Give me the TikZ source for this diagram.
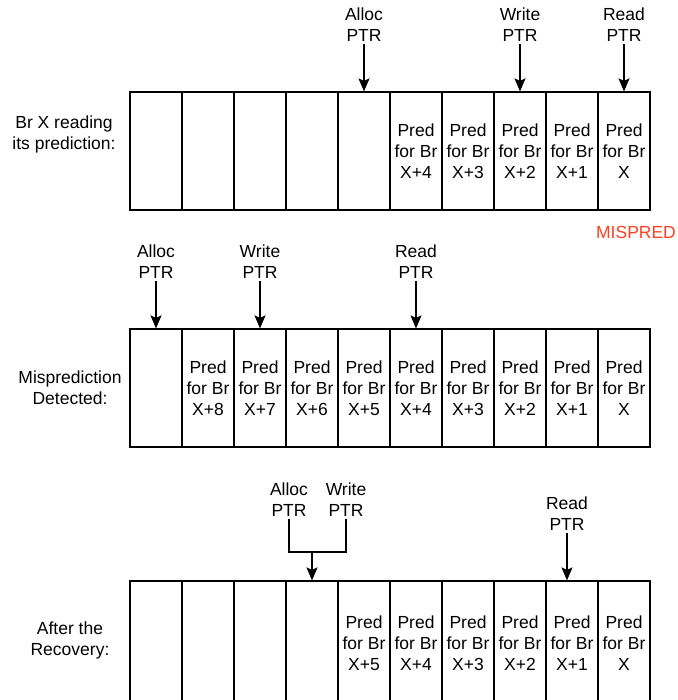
\documentclass[tikz,border=0pt]{standalone}
\usepackage{fontspec}
\setmainfont{Liberation Sans}
\usetikzlibrary{arrows.meta}
\newcommand{\lblfont}{\fontsize{17.5}{21}\selectfont}
\definecolor{misred}{RGB}{255,64,32}
\tikzset{
  cell/.style={draw,line width=1.2pt,minimum width=52pt,minimum height=118pt,inner sep=0pt,align=center,font=\lblfont},
  ptr/.style={align=center,font=\lblfont,inner sep=2pt},
  arr/.style={-{Stealth[length=13pt,width=11pt,inset=2.5pt]},line width=1.2pt},
}
\begin{document}
\begin{tikzpicture}[x=1pt,y=-1pt]
\useasboundingbox (0,0) rectangle (677,700);
\clip (0,0) rectangle (677,700);
% row 1: branch X reads its prediction
\node[ptr] (rowa) at (64,134) {Br X reading\\its prediction:};
\node[cell] (a1) at (156,151) {};
\node[cell] (a2) at (208,151) {};
\node[cell] (a3) at (260,151) {};
\node[cell] (a4) at (312,151) {};
\node[cell] (a5) at (364,151) {};
\node[cell] (a6) at (416,151) {Pred\\for Br\\X+4};
\node[cell] (a7) at (468,151) {Pred\\for Br\\X+3};
\node[cell] (a8) at (520,151) {Pred\\for Br\\X+2};
\node[cell] (a9) at (572,151) {Pred\\for Br\\X+1};
\node[cell] (a10) at (624,151) {Pred\\for Br\\X};
\node[ptr] (alA) at (364,25) {Alloc\\PTR};
\node[ptr] (wrA) at (520,25) {Write\\PTR};
\node[ptr] (rdA) at (624,25) {Read\\PTR};
\draw[arr] (alA) -- (a5);
\draw[arr] (wrA) -- (a8);
\draw[arr] (rdA) -- (a10);
\node[ptr,text=misred] (mis) at (636,232) {MISPRED};
% row 2: misprediction detected
\node[ptr] (rowb) at (70,388) {Misprediction\\Detected:};
\node[cell] (b1) at (156,388) {};
\node[cell] (b2) at (208,388) {Pred\\for Br\\X+8};
\node[cell] (b3) at (260,388) {Pred\\for Br\\X+7};
\node[cell] (b4) at (312,388) {Pred\\for Br\\X+6};
\node[cell] (b5) at (364,388) {Pred\\for Br\\X+5};
\node[cell] (b6) at (416,388) {Pred\\for Br\\X+4};
\node[cell] (b7) at (468,388) {Pred\\for Br\\X+3};
\node[cell] (b8) at (520,388) {Pred\\for Br\\X+2};
\node[cell] (b9) at (572,388) {Pred\\for Br\\X+1};
\node[cell] (b10) at (624,388) {Pred\\for Br\\X};
\node[ptr] (alB) at (156,262) {Alloc\\PTR};
\node[ptr] (wrB) at (260,262) {Write\\PTR};
\node[ptr] (rdB) at (416,262) {Read\\PTR};
\draw[arr] (alB) -- (b1);
\draw[arr] (wrB) -- (b3);
\draw[arr] (rdB) -- (b6);
% row 3: after the recovery
\node[ptr] (rowc) at (70,640) {After the\\Recovery:};
\node[cell,minimum height=124pt] (c1) at (156,643) {};
\node[cell,minimum height=124pt] (c2) at (208,643) {};
\node[cell,minimum height=124pt] (c3) at (260,643) {};
\node[cell,minimum height=124pt] (c4) at (312,643) {};
\node[cell,minimum height=124pt] (c5) at (364,643) {Pred\\for Br\\X+5};
\node[cell,minimum height=124pt] (c6) at (416,643) {Pred\\for Br\\X+4};
\node[cell,minimum height=124pt] (c7) at (468,643) {Pred\\for Br\\X+3};
\node[cell,minimum height=124pt] (c8) at (520,643) {Pred\\for Br\\X+2};
\node[cell,minimum height=124pt] (c9) at (572,643) {Pred\\for Br\\X+1};
\node[cell,minimum height=124pt] (c10) at (624,643) {Pred\\for Br\\X};
\node[ptr] (alC) at (289,500) {Alloc\\PTR};
\node[ptr] (wrC) at (346,500) {Write\\PTR};
\node[ptr] (rdC) at (567,514) {Read\\PTR};
\coordinate (jn) at (312,552);
\draw[line width=1.2pt] (alC) |- (jn) -| (wrC);
\draw[arr] (jn) -- (c4);
\draw[arr] (rdC) -- (rdC |- c9.north);
\end{tikzpicture}
\end{document}
